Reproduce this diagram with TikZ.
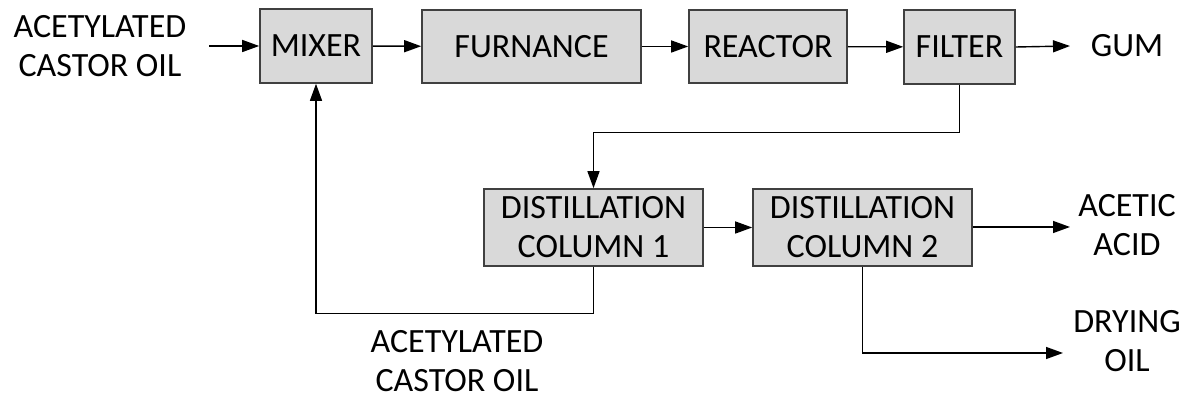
\documentclass[tikz,border=0pt]{standalone}
\usepackage{fontspec}
\setmainfont{Carlito}
\usetikzlibrary{arrows.meta}
\definecolor{boxfill}{HTML}{D9D9D9}
\definecolor{boxline}{HTML}{404040}
\begin{document}
\begin{tikzpicture}[x=0.5pt,y=-0.5pt,
  font=\fontsize{17}{19.5}\selectfont,
  unit/.style={draw=boxline,fill=boxfill,line width=0.8pt,inner sep=0pt,align=center},
  stream/.style={align=center,inner sep=2pt},
  flow/.style={draw=black,line width=0.7pt,-{Triangle[length=8.5pt,width=6pt]}}]
\useasboundingbox (0,0) rectangle (1194,399);

% process units
\node[unit,minimum width=56pt,minimum height=37pt]   (mixer)    at (316,46)     {MIXER};
\node[unit,minimum width=109.5pt,minimum height=36.5pt] (furnace) at (531.5,46.5) {FURNANCE};
\node[unit,minimum width=79pt,minimum height=36.5pt] (reactor)  at (768,46.5)   {REACTOR};
\node[unit,minimum width=55.5pt,minimum height=37pt] (filter)   at (959.5,47)   {FILTER};
\node[unit,minimum width=109.5pt,minimum height=38.5pt] (dcone)  at (593.5,227.5) {DISTILLATION\\COLUMN 1};
\node[unit,minimum width=109.5pt,minimum height=38.5pt] (dctwo)  at (862.5,227.5) {DISTILLATION\\COLUMN 2};

% feed and product streams
\node[stream] (feed)    at (100,46)   {ACETYLATED\\CASTOR OIL};
\node[stream] (gum)     at (1127,46)  {GUM};
\node[stream] (acetic)  at (1127,225) {ACETIC\\ACID};
\node[stream] (drying)  at (1127,341) {DRYING\\OIL};
\node[stream] (recycle) at (457,361)  {ACETYLATED\\CASTOR OIL};

\coordinate (feedstart) at (209,46);
\coordinate (gumend)    at (1070,46);
\coordinate (aceticend) at (1070,227);
\coordinate (dryingend) at (1063,353);

% connectors
\draw[flow] (feedstart) -- (mixer.west);
\draw[flow] (mixer) -- (furnace);
\draw[flow] (furnace) -- (reactor);
\draw[flow] (reactor) -- (filter);
\draw[flow] (filter.east) -- (gumend);
\draw[flow] (filter.south) -- ++(0,48) -| (dcone.north);
\draw[flow] (dcone) -- (dctwo);
\draw[flow] (dctwo.east |- aceticend) -- (aceticend);
\draw[flow] (dctwo.south) |- (dryingend);
\draw[flow] (dcone.south) -- ++(0,47) -| (mixer.south);
\end{tikzpicture}
\end{document}
